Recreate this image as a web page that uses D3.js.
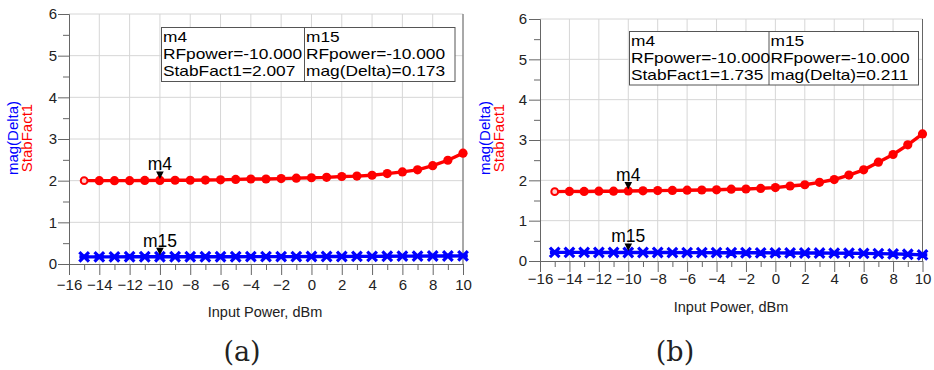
<!DOCTYPE html>
<html><head><meta charset="utf-8">
<script src="https://cdn.jsdelivr.net/npm/d3@7"></script>
<style>body{margin:0;background:#fff}svg{display:block}</style>
</head><body>
<svg id="c" width="934" height="370"></svg>
<script>
// ---------- data ----------
const inputPower = [-15,-14,-13,-12,-11,-10,-9,-8,-7,-6,-5,-4,-3,-2,-1,0,1,2,3,4,5,6,7,8,9,10];
const stabFactA = [2.00,2.00,2.00,2.00,2.005,2.007,2.01,2.01,2.015,2.02,2.03,2.04,2.04,2.05,2.06,2.07,2.08,2.10,2.11,2.13,2.17,2.21,2.26,2.36,2.49,2.66];
const magDeltaA = [0.172,0.172,0.172,0.173,0.173,0.173,0.173,0.174,0.174,0.175,0.175,0.176,0.176,0.177,0.178,0.179,0.180,0.181,0.182,0.184,0.186,0.188,0.190,0.192,0.193,0.195];
const stabFactB = [1.72,1.725,1.725,1.73,1.73,1.735,1.74,1.745,1.75,1.755,1.76,1.765,1.78,1.785,1.80,1.82,1.86,1.89,1.95,2.02,2.13,2.26,2.45,2.64,2.88,3.15];
const magDeltaB = [0.214,0.213,0.213,0.212,0.212,0.211,0.211,0.210,0.209,0.208,0.207,0.206,0.205,0.204,0.203,0.202,0.200,0.199,0.197,0.195,0.192,0.188,0.183,0.176,0.166,0.152];
const xTicks = [-16,-14,-12,-10,-8,-6,-4,-2,0,2,4,6,8,10];
const xMinorTicks = [-15,-13,-11,-9,-7,-5,-3,-1,1,3,5,7,9];
const yTicks = [0,1,2,3,4,5,6];
const yMinorTicks = [0.5,1.5,2.5,3.5,4.5,5.5];
const markerX = -10;
const markerNames = ["m4","m15"];
const boxA = [["m4","RFpower=-10.000","StabFact1=2.007"],["m15","RFpower=-10.000","mag(Delta)=0.173"]];
const boxB = [["m4","RFpower=-10.000","StabFact1=1.735"],["m15","RFpower=-10.000","mag(Delta)=0.211"]];
const captions = ["(a)","(b)"];
const xTitle = "Input Power, dBm";
const yTitles = ["mag(Delta)","StabFact1"];

// ---------- drawing ----------
const svg = d3.select("#c");
const RED = "#ff0000", BLUE = "#0000ff", AX = "#666666", GRID = "#d6d6d6";
const FONT = "'Liberation Sans', Arial, sans-serif";

const panels = [
  {L:69, R:463, T:14, B:264, red:stabFactA, blue:magDeltaA, box:boxA,
   bx:161.5, by:27.5, bw:293.5, bh:54, bdiv:304.5,
   yt:[18,32], ytCy:138, xtCx:265, xtY:316.5, capCx:242, capY:361, ylPad:1, xlPad:4, cap:captions[0]},
  {L:540, R:922.5, T:19, B:261, red:stabFactB, blue:magDeltaB, box:boxB,
   bx:629.5, by:31.5, bw:289, bh:53.5, bdiv:769,
   yt:[490,504], ytCy:138, xtCx:731, xtY:311.5, capCx:675, capY:361, ylPad:2, xlPad:1, cap:captions[1]}
];

panels.forEach(p => {
  const g = svg.append("g");
  const x = d3.scaleLinear().domain([xTicks[0], xTicks[xTicks.length-1]]).range([p.L, p.R]);
  const y = d3.scaleLinear().domain([yTicks[0], yTicks[yTicks.length-1]]).range([p.B, p.T]);

  // grid
  g.append("g").selectAll("line").data(xTicks.slice(1)).join("line")
    .attr("x1", d => x(d)).attr("x2", d => x(d)).attr("y1", p.T).attr("y2", p.B)
    .attr("stroke", GRID).attr("stroke-width", 1);
  g.append("g").selectAll("line").data(yTicks.slice(1)).join("line")
    .attr("x1", p.L).attr("x2", p.R).attr("y1", d => y(d)).attr("y2", d => y(d))
    .attr("stroke", GRID).attr("stroke-width", 1);
  // right border
  g.append("line").attr("x1", p.R).attr("x2", p.R).attr("y1", p.T).attr("y2", p.B)
    .attr("stroke", AX).attr("stroke-width", 1);

  // axes
  const xa = g.append("g").attr("transform", `translate(0,${p.B})`)
    .call(d3.axisBottom(x).tickValues(xTicks).tickSize(11).tickSizeOuter(0).tickPadding(p.xlPad).tickFormat(d3.format("d")));
  const xm = g.append("g").attr("transform", `translate(0,${p.B})`)
    .call(d3.axisBottom(x).tickValues(xMinorTicks).tickSize(6).tickSizeOuter(0).tickFormat(""));
  const ya = g.append("g").attr("transform", `translate(${p.L},0)`)
    .call(d3.axisLeft(y).tickValues(yTicks).tickSize(11).tickSizeOuter(0).tickPadding(p.ylPad).tickFormat(d3.format("d")));
  const ym = g.append("g").attr("transform", `translate(${p.L},0)`)
    .call(d3.axisLeft(y).tickValues(yMinorTicks).tickSize(6).tickSizeOuter(0).tickFormat(""));
  [xa,xm,ya,ym].forEach(a => {
    a.selectAll("path,line").attr("stroke", AX).attr("stroke-width", 1);
    a.selectAll("text").attr("fill", "#222").attr("font-family", FONT);
  });
  xa.selectAll("text").attr("font-size", 15);
  ya.selectAll("text").attr("font-size", 15);

  // series
  const line = d3.line().x((d,i) => x(inputPower[i])).y(d => y(d));
  g.append("path").datum(p.blue).attr("d", line).attr("fill", "none")
    .attr("stroke", BLUE).attr("stroke-width", 3.4);
  const s = 4.8;
  g.append("g").selectAll("path").data(p.blue).join("path")
    .attr("transform", (d,i) => `translate(${x(inputPower[i])},${y(d)})`)
    .attr("d", `M${-s},${-s}L${s},${s}M${-s},${s}L${s},${-s}M${-s},0L${s},0`)
    .attr("stroke", BLUE).attr("stroke-width", 3.2).attr("fill", "none");

  g.append("path").datum(p.red).attr("d", line).attr("fill", "none")
    .attr("stroke", RED).attr("stroke-width", 3.4);
  g.append("g").selectAll("circle").data(p.red).join("circle")
    .attr("cx", (d,i) => x(inputPower[i])).attr("cy", d => y(d))
    .attr("r", (d,i) => i === 0 ? 3.4 : 4.6)
    .attr("fill", (d,i) => i === 0 ? "#ffd0d0" : RED)
    .attr("stroke", RED).attr("stroke-width", (d,i) => i === 0 ? 2 : 0);

  // markers
  const mi = inputPower.indexOf(markerX);
  [p.red[mi], p.blue[mi]].forEach((v, k) => {
    const px = x(markerX), py = y(v);
    g.append("path").attr("d", `M${px-3.8},${py-9}L${px+3.8},${py-9}L${px},${py-1.5}Z`).attr("fill", "#000");
    g.append("text").attr("x", px).attr("y", py - 10).attr("text-anchor", "middle")
      .attr("font-family", FONT).attr("font-size", 17.5).attr("fill", "#000").text(markerNames[k]);
  });

  // marker readout box
  g.append("rect").attr("x", p.bx).attr("y", p.by).attr("width", p.bw).attr("height", p.bh)
    .attr("fill", "#fff").attr("stroke", "#555").attr("stroke-width", 1);
  g.append("line").attr("x1", p.bdiv).attr("x2", p.bdiv).attr("y1", p.by).attr("y2", p.by + p.bh)
    .attr("stroke", "#555").attr("stroke-width", 1);
  p.box.forEach((col, ci) => {
    const tx = (ci === 0 ? p.bx : p.bdiv) + 1.5;
    col.forEach((t, li) => {
      const el = g.append("text").attr("x", tx).attr("y", p.by + 14 + li * 17.2)
        .attr("font-family", FONT).attr("font-size", 14.8).attr("fill", "#000").text(t);
      const w = el.node().getComputedTextLength();
      el.attr("textLength", w * 1.17).attr("lengthAdjust", "spacingAndGlyphs");
    });
  });

  // y titles
  yTitles.forEach((t, k) => {
    g.append("text").attr("transform", `translate(${p.yt[k]},${p.ytCy}) rotate(-90)`)
      .attr("text-anchor", "middle").attr("font-family", FONT).attr("font-size", 15)
      .attr("fill", k === 0 ? BLUE : RED).text(t);
  });
  // x title
  g.append("text").attr("x", p.xtCx).attr("y", p.xtY).attr("text-anchor", "middle")
    .attr("font-family", FONT).attr("font-size", 14.5).attr("fill", "#222").text(xTitle);
  // caption
  g.append("text").attr("x", p.capCx).attr("y", p.capY).attr("text-anchor", "middle")
    .attr("font-family", "'DejaVu Serif', 'Liberation Serif', serif").attr("font-size", 27)
    .attr("fill", "#222").text(p.cap);
});
</script>
</body></html>
